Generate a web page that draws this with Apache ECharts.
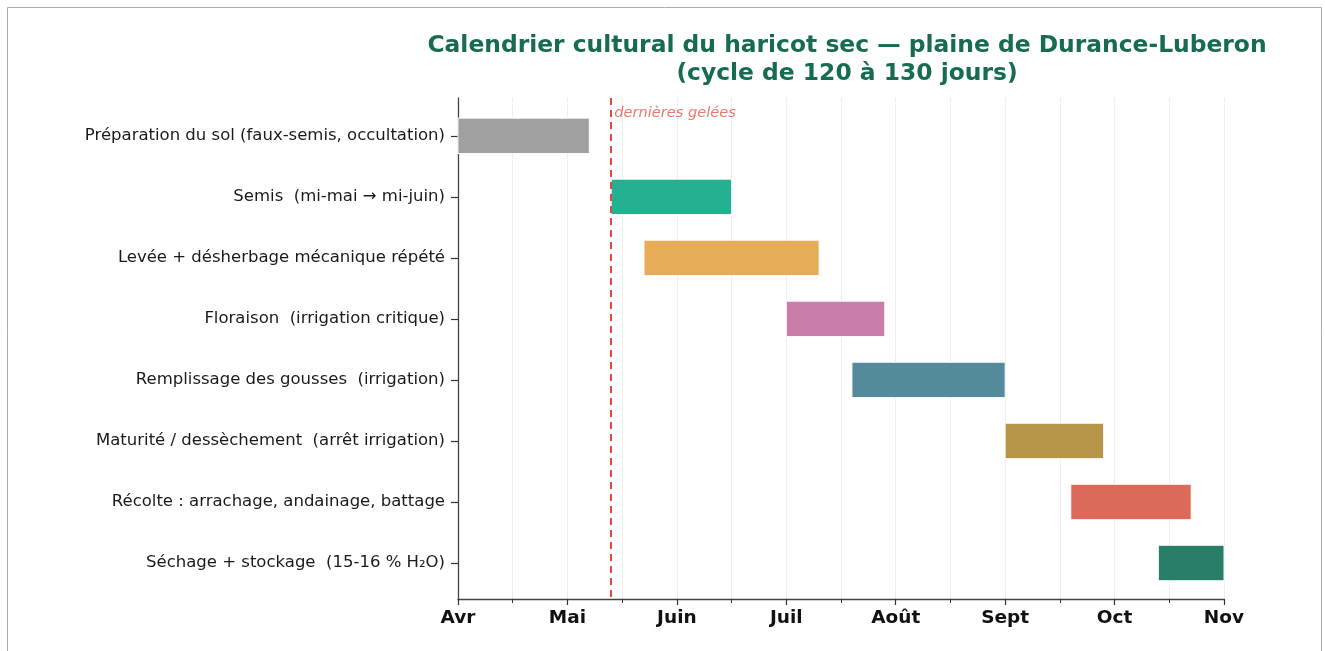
<!DOCTYPE html>
<html>
<head>
<meta charset="utf-8">
<script src="https://cdn.jsdelivr.net/npm/echarts@6/dist/echarts.min.js"></script>
<style>
  html, body { margin: 0; padding: 0; background: #fff; }
  #chart { width: 1325px; height: 651px; }
</style>
</head>
<body>
<div id="chart"></div>
<script>
// months counted from 1 April (0 = Avr, 7 = Nov)
const monthLabels = ['Avr', 'Mai', 'Juin', 'Juil', 'Août', 'Sept', 'Oct', 'Nov'];
const stages = [
  'Préparation du sol (faux-semis, occultation)',
  'Semis  (mi-mai → mi-juin)',
  'Levée + désherbage mécanique répété',
  'Floraison  (irrigation critique)',
  'Remplissage des gousses  (irrigation)',
  'Maturité / dessèchement  (arrêt irrigation)',
  'Récolte : arrachage, andainage, battage',
  'Séchage + stockage  (15-16 % H₂O)'
];
const starts = [0.0, 1.4, 1.7, 3.0, 3.6, 5.0, 5.6, 6.4];
const ends   = [1.2, 2.5, 3.3, 3.9, 5.0, 5.9, 6.7, 7.0];
const colors = ['#9b9b9b', '#17ad8c', '#e6a84e', '#c676a3', '#4a8595', '#b38f3f', '#d9634f', '#1d7762'];
const lastFrost = 1.4;

const FONT = 'DejaVu Sans';

const chart = echarts.init(document.getElementById('chart'));

const barData = stages.map((s, i) => [starts[i], ends[i], i]);

const option = {
  animation: false,
  title: {
    text: 'Calendrier cultural du haricot sec — plaine de Durance-Luberon\n(cycle de 120 à 130 jours)',
    left: 842,
    top: 27,
    textAlign: 'center',
    textStyle: {
      fontFamily: FONT,
      fontSize: 23.4,
      fontWeight: 'bold',
      color: '#176b53',
      lineHeight: 28
    }
  },
  graphic: [{
    type: 'rect',
    shape: { x: 7.5, y: 7.5, width: 1314, height: 660 },
    style: { fill: 'none', stroke: '#aaa', lineWidth: 1 },
    silent: true
  }],
  grid: { left: 458, right: 101, top: 98, bottom: 52, containLabel: false },
  xAxis: {
    type: 'value',
    min: 0,
    max: 7,
    interval: 1,
    axisLine: { show: true, onZero: false, lineStyle: { color: '#444', width: 1.3 } },
    axisTick: { show: true, length: 6, lineStyle: { color: '#333', width: 1.2 } },
    minorTick: { show: true, splitNumber: 2, length: 4, lineStyle: { color: '#333', width: 1 } },
    splitLine: { show: true, lineStyle: { color: '#ddd', type: 'dotted', width: 1 } },
    minorSplitLine: { show: true, lineStyle: { color: '#ddd', type: 'dotted', width: 1 } },
    axisLabel: {
      formatter: v => monthLabels[Math.round(v)] || '',
      fontFamily: FONT,
      fontSize: 18.5,
      fontWeight: 'bold',
      color: '#111',
      margin: 10
    }
  },
  yAxis: {
    type: 'value',
    inverse: true,
    min: -0.62,
    max: 7.59,
    axisLine: { show: true, onZero: false, lineStyle: { color: '#444', width: 1.3 } },
    axisTick: { show: true, length: 7, customValues: [0, 1, 2, 3, 4, 5, 6, 7], lineStyle: { color: '#333', width: 1.2 } },
    splitLine: { show: false },
    axisLabel: {
      customValues: [0, 1, 2, 3, 4, 5, 6, 7],
      formatter: v => stages[Math.round(v)] || '',
      fontFamily: FONT,
      fontSize: 16.5,
      color: '#1a1a1a',
      margin: 13
    }
  },
  series: [
    {
      type: 'custom',
      data: barData,
      encode: { x: [0, 1], y: 2 },
      renderItem: (params, api) => {
        const i = api.value(2);
        const p0 = api.coord([api.value(0), i]);
        const p1 = api.coord([api.value(1), i]);
        const h = api.size([0, 1])[1] * 0.58;
        return {
          type: 'rect',
          shape: { x: p0[0], y: p0[1] - h / 2, width: p1[0] - p0[0], height: h },
          style: { fill: colors[i], opacity: 0.95, stroke: '#fff', lineWidth: 1 }
        };
      },
      z: 3
    },
    {
      type: 'scatter',
      data: [[lastFrost, -0.37]],
      symbolSize: 0,
      silent: true,
      label: {
        show: true,
        position: 'right',
        distance: 3,
        formatter: 'dernières gelées',
        fontFamily: FONT,
        fontStyle: 'italic',
        fontSize: 14.6,
        color: '#e0574a'
      },
      markLine: {
        silent: true,
        symbol: 'none',
        label: { show: false },
        lineStyle: { color: '#e04a3a', type: [7, 5], width: 2 },
        data: [{ xAxis: lastFrost }]
      },
      z: 4
    }
  ]
};

chart.setOption(option);
</script>
</body>
</html>
